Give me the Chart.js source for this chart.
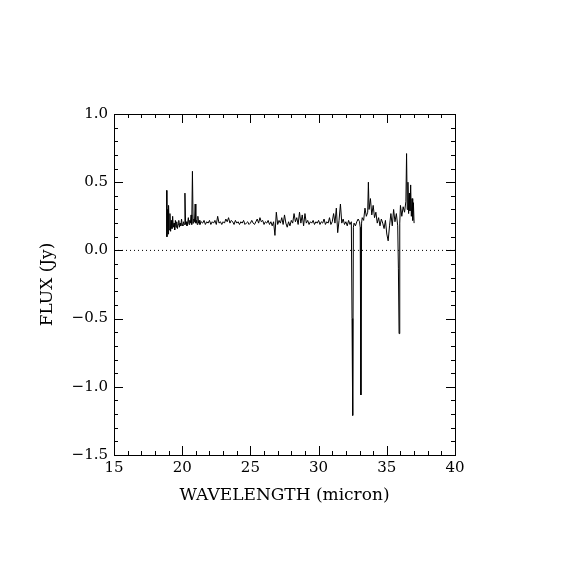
<!DOCTYPE html>
<html>
<head>
<meta charset="utf-8">
<script src="https://cdn.jsdelivr.net/npm/chart.js@4.4.1/dist/chart.umd.min.js"></script>
<style>
  html, body { margin: 0; padding: 0; background: #fff; }
  #wrap { width: 570px; height: 570px; }
</style>
</head>
<body>
<div id="wrap"><canvas id="spectrum" width="570" height="570"></canvas></div>
<script>
// wavelength (micron) and flux (Jy)
const wavelength = [
  18.85, 18.88, 18.92, 18.96, 19.00, 19.05, 19.10, 19.15, 19.20, 19.25,
  19.30, 19.35, 19.40, 19.45, 19.50, 19.55, 19.60, 19.65, 19.70, 19.75,
  19.80, 19.85, 19.90, 19.95, 20.00, 20.05, 20.10, 20.15, 20.20, 20.25,
  20.30, 20.35, 20.40, 20.45, 20.50, 20.55, 20.60, 20.65, 20.70, 20.75,
  20.80, 20.85, 20.90, 20.95, 21.00, 21.05, 21.10, 21.15, 21.20, 21.25,
  21.30, 21.40, 21.50, 21.60, 21.70, 21.80, 21.90, 22.00, 22.10, 22.20,
  22.30, 22.40, 22.50, 22.60, 22.70, 22.80, 22.90, 23.00, 23.10, 23.20,
  23.30, 23.40, 23.50, 23.60, 23.70, 23.80, 23.90, 24.00, 24.10, 24.20,
  24.30, 24.40, 24.50, 24.60, 24.70, 24.80, 24.90, 25.00, 25.10, 25.20,
  25.30, 25.40, 25.50, 25.60, 25.70, 25.80, 25.90, 26.00, 26.10, 26.20,
  26.30, 26.40, 26.50, 26.60, 26.70, 26.80, 26.90, 27.00, 27.10, 27.20,
  27.30, 27.40, 27.50, 27.60, 27.70, 27.80, 27.90, 28.00, 28.10, 28.20,
  28.30, 28.40, 28.50, 28.60, 28.70, 28.80, 28.90, 29.00, 29.10, 29.20,
  29.30, 29.40, 29.50, 29.60, 29.70, 29.80, 29.90, 30.00, 30.10, 30.20,
  30.30, 30.40, 30.50, 30.60, 30.70, 30.80, 30.90, 31.00, 31.10, 31.20,
  31.30, 31.40, 31.50, 31.60, 31.70, 31.80, 31.90, 32.00, 32.10, 32.20,
  32.30, 32.40, 32.45, 32.50, 32.55, 32.60, 32.70, 32.80, 32.90, 33.00,
  33.05, 33.10, 33.15, 33.20, 33.30, 33.40, 33.50, 33.60, 33.65, 33.70,
  33.80, 33.90, 34.00, 34.10, 34.20, 34.30, 34.40, 34.50, 34.60, 34.70,
  34.80, 34.90, 35.00, 35.10, 35.20, 35.30, 35.40, 35.50, 35.60, 35.70,
  35.80, 35.85, 35.90, 35.95, 36.00, 36.10, 36.20, 36.30, 36.40, 36.45,
  36.50, 36.55, 36.60, 36.65, 36.70, 36.75, 36.80, 36.85, 36.90, 36.95,
  37.00
];

const flux = [
  0.44, 0.10, 0.30, 0.12, 0.33, 0.15, 0.27, 0.14, 0.22, 0.16,
  0.25, 0.17, 0.20, 0.15, 0.22, 0.17, 0.21, 0.16, 0.19, 0.22,
  0.17, 0.20, 0.18, 0.23, 0.19, 0.18, 0.21, 0.19, 0.42, 0.19,
  0.21, 0.18, 0.20, 0.24, 0.19, 0.22, 0.20, 0.26, 0.19, 0.58,
  0.20, 0.23, 0.21, 0.34, 0.20, 0.22, 0.19, 0.25, 0.20, 0.22,
  0.19, 0.21, 0.20, 0.22, 0.19, 0.21, 0.20, 0.22, 0.19, 0.21,
  0.20, 0.22, 0.19, 0.25, 0.20, 0.21, 0.19, 0.21, 0.20, 0.23,
  0.21, 0.24, 0.20, 0.22, 0.21, 0.19, 0.22, 0.20, 0.21, 0.19,
  0.21, 0.20, 0.22, 0.19, 0.20, 0.21, 0.19, 0.20, 0.22, 0.20,
  0.19, 0.21, 0.23, 0.20, 0.24, 0.21, 0.22, 0.19, 0.21, 0.20,
  0.22, 0.19, 0.21, 0.18, 0.21, 0.11, 0.28, 0.19, 0.22, 0.20,
  0.24, 0.19, 0.26, 0.20, 0.17, 0.21, 0.18, 0.22, 0.20, 0.27,
  0.21, 0.24, 0.19, 0.28, 0.20, 0.26, 0.18, 0.27, 0.20, 0.22,
  0.19, 0.21, 0.20, 0.22, 0.19, 0.21, 0.20, 0.22, 0.19, 0.21,
  0.20, 0.23, 0.19, 0.21, 0.20, 0.24, 0.19, 0.21, 0.27, 0.20,
  0.31, 0.13, 0.22, 0.34, 0.20, 0.23, 0.19, 0.21, 0.18, 0.22,
  0.19, 0.21, -0.50, -1.21, 0.17, 0.20, 0.18, 0.21, 0.23, 0.21,
  0.17, -1.06, 0.20, 0.24, 0.22, 0.31, 0.25, 0.28, 0.50, 0.30,
  0.38, 0.26, 0.33, 0.24, 0.28, 0.20, 0.24, 0.18, 0.23, 0.20,
  0.16, 0.22, 0.12, 0.07, 0.18, 0.27, 0.18, 0.30, 0.21, 0.27,
  0.18, -0.13, -0.61, 0.20, 0.33, 0.25, 0.32, 0.28, 0.36, 0.71,
  0.30, 0.50, 0.27, 0.42, 0.29, 0.48, 0.25, 0.38, 0.22, 0.35,
  0.20
];

const xTicks = [15, 20, 25, 30, 35, 40];
const yTicks = [-1.5, -1.0, -0.5, 0.0, 0.5, 1.0];
const zeroLine = [15, 40];

const serif = 'DejaVu Serif';

// IDL-style frame: box with inward major and minor ticks on all four sides
const frameTicks = {
    id: 'frameTicks',
    afterDraw(chart) {
        const c = chart.ctx;
        const a = chart.chartArea;
        const xs = chart.scales.x;
        const ys = chart.scales.y;
        c.save();
        c.strokeStyle = '#000';
        c.lineWidth = 1;
        c.strokeRect(a.left + 0.5, a.top + 0.5, a.right - a.left, a.bottom - a.top);
        c.beginPath();
        for (let v = 15; v <= 40; v += 1) {
            const px = Math.round(xs.getPixelForValue(v)) + 0.5;
            const len = v % 5 === 0 ? 9 : 4;
            c.moveTo(px, a.bottom); c.lineTo(px, a.bottom - len);
            c.moveTo(px, a.top); c.lineTo(px, a.top + len);
        }
        for (let i = -15; i <= 10; i++) {
            const py = Math.round(ys.getPixelForValue(i / 10)) + 0.5;
            const len = i % 5 === 0 ? 9 : 4;
            c.moveTo(a.left, py); c.lineTo(a.left + len, py);
            c.moveTo(a.right, py); c.lineTo(a.right - len, py);
        }
        c.stroke();
        c.restore();
    }
};

const ctx = document.getElementById('spectrum').getContext('2d');

new Chart(ctx, {
    type: 'line',
    data: {
        datasets: [{
            data: wavelength.map((w, i) => ({ x: w, y: flux[i] })),
            borderColor: '#000',
            borderWidth: 1,
            pointRadius: 0,
            tension: 0
        }, {
            data: zeroLine.map(w => ({ x: w, y: 0 })),
            borderColor: '#000',
            borderWidth: 1,
            borderDash: [1, 3],
            pointRadius: 0
        }]
    },
    options: {
        responsive: false,
        animation: false,
        devicePixelRatio: 1,
        layout: {
            padding: { left: 37, right: 115, top: 114, bottom: 64 }
        },
        plugins: {
            legend: { display: false },
            tooltip: { enabled: false }
        },
        scales: {
            x: {
                type: 'linear',
                min: 15,
                max: 40,
                afterBuildTicks: s => { s.ticks = xTicks.map(v => ({ value: v })); },
                afterFit: s => { s.height = 51; },
                grid: { display: false, drawTicks: false, tickLength: 0 },
                border: { display: false },
                ticks: {
                    color: '#000',
                    padding: 4,
                    font: { family: serif, size: 15 },
                    callback: v => String(v)
                },
                title: {
                    display: true,
                    text: 'WAVELENGTH (micron)',
                    color: '#000',
                    padding: 0,
                    font: { family: serif, size: 17 }
                }
            },
            y: {
                type: 'linear',
                min: -1.5,
                max: 1.0,
                afterBuildTicks: s => { s.ticks = yTicks.map(v => ({ value: v })); },
                afterFit: s => { s.width = 77; },
                grid: { display: false, drawTicks: false, tickLength: 0 },
                border: { display: false },
                ticks: {
                    color: '#000',
                    padding: 6,
                    font: { family: serif, size: 15 },
                    callback: v => v.toFixed(1).replace('-', '\u2212')
                },
                title: {
                    display: true,
                    text: 'FLUX (Jy)',
                    color: '#000',
                    padding: 0,
                    font: { family: serif, size: 17 }
                }
            }
        }
    },
    plugins: [frameTicks]
});
</script>
</body>
</html>
